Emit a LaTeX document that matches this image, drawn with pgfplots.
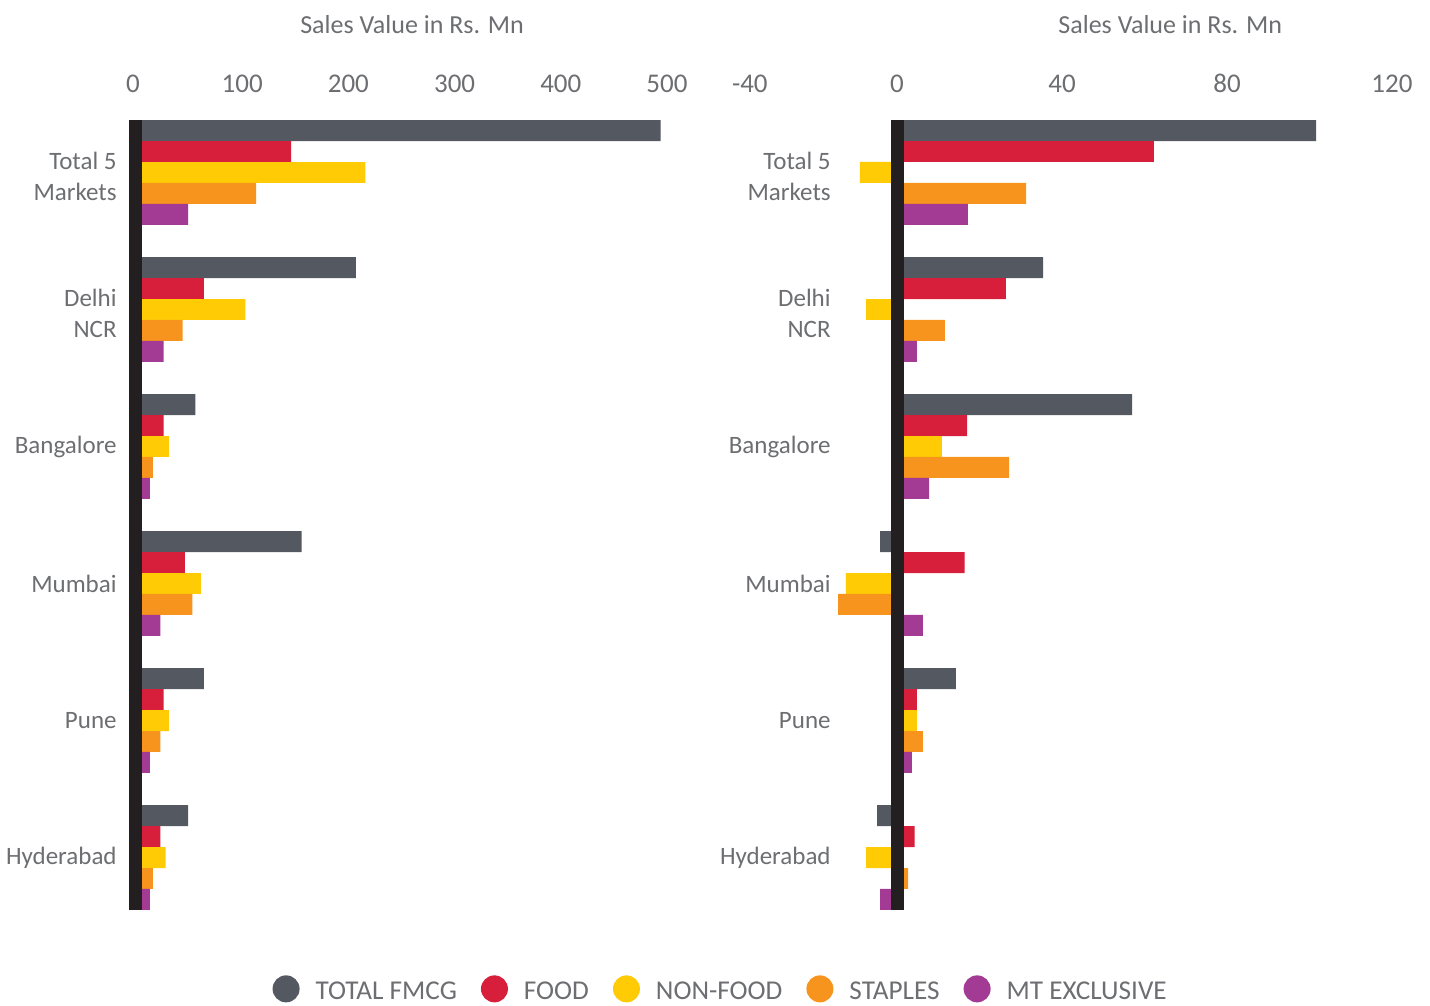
\documentclass[border=0pt]{standalone}
\usepackage{pgfplots}
\pgfplotsset{compat=1.18}
\usepackage{fontspec}
\setmainfont{Carlito}
\definecolor{cfmcg}{HTML}{545861}
\definecolor{cfood}{HTML}{D71F3C}
\definecolor{cnon}{HTML}{FFCB05}
\definecolor{cstap}{HTML}{F7941D}
\definecolor{cmt}{HTML}{A33A94}
\definecolor{caxis}{HTML}{231F20}
\definecolor{ctext}{HTML}{6D6E71}
\pgfplotstableread{
cat fmcg food non stap mt
0 494 146 216 113 49
1 207 64 103 44 26
2 56 26 31 16 13
3 156 46 61 53 23
4 64 26 31 23 13
5 49 23 28 16 13
}\lefttab
\pgfplotstableread{
cat fmcg food non stap mt
0 101.6 62.3 -9.0 31.3 17.2
1 35.4 26.4 -7.5 11.6 4.8
2 57.0 17.0 10.9 27.2 7.8
3 -4.1 16.4 -12.4 -14.3 6.3
4 14.3 4.8 4.8 6.3 3.6
5 -4.8 4.3 -7.5 2.7 -4.1
}\righttab
\begin{document}
\begin{tikzpicture}
\useasboundingbox (-68pt,-48pt) rectangle (647pt,455pt);
\pgfplotsset{
 mybase/.style={
  scale only axis, height=395pt,
  xbar=0pt, y dir=reverse, ymin=-0.383, ymax=5.383,
  ytick={0,1,2,3,4,5},
  bar width=0.153,
  axis line style={draw=none},
  major tick length=0pt,
  tick style={draw=none},
  xticklabel pos=upper,
  xticklabel style={anchor=base, inner sep=0pt, yshift=14pt, font=\fontsize{13.5}{16}\selectfont, text=ctext},
  yticklabel style={anchor=east, inner sep=0pt, align=right, font=\fontsize{12.5}{15.5}\selectfont, text=ctext},
  yticklabels={{\rule{0pt}{13pt}Total 5\\Markets},{\rule{0pt}{13pt}Delhi\\NCR},Bangalore,Mumbai,Pune,Hyderabad},
  clip=false,
 }
}
\begin{axis}[mybase, width=265.5pt, xmin=0, xmax=500,
  xtick={0,100,200,300,400,500}, xticklabels={\makebox[0pt]{0\hspace{3pt}},100,200,300,400,500},
  yticklabel style={xshift=-9.5pt},
  legend columns=5,
  legend style={at={(1.103,-0.1025)}, anchor=center, draw=none, fill=none,
    font=\fontsize{13.6}{16}\selectfont, text=ctext,
    /tikz/every odd column/.append style={column sep=6pt},
    /tikz/every even column/.append style={column sep=10pt}},
  legend image code/.code={\fill[#1] (6.75pt,0.17em) circle (6.75pt);},
]
\addplot[fill=cfmcg, draw=none] table[x=fmcg, y=cat]{\lefttab};
\addplot[fill=cfood, draw=none] table[x=food, y=cat]{\lefttab};
\addplot[fill=cnon, draw=none] table[x=non, y=cat]{\lefttab};
\addplot[fill=cstap, draw=none] table[x=stap, y=cat]{\lefttab};
\addplot[fill=cmt, draw=none] table[x=mt, y=cat]{\lefttab};
\legend{TOTAL FMCG, FOOD, NON-FOOD, STAPLES, MT EXCLUSIVE}
\draw[line width=6.5pt, caxis] (axis cs:0,-0.383) -- (axis cs:0,5.383);
\node[anchor=base, text=ctext, font=\fontsize{13}{16}\selectfont] at ([yshift=43.5pt]rel axis cs:0.52,1) {Sales Value in Rs. Mn};
\end{axis}
\begin{axis}[mybase, at={(298pt,0)}, anchor=south west, width=330pt, xmin=-40, xmax=120,
  xtick={-40,0,40,80,120}, xticklabels={\makebox[0pt][l]{-40},0,40,80,120},
  yticklabel style={xshift=49.5pt},
]
\addplot[fill=cfmcg, draw=none] table[x=fmcg, y=cat]{\righttab};
\addplot[fill=cfood, draw=none] table[x=food, y=cat]{\righttab};
\addplot[fill=cnon, draw=none] table[x=non, y=cat]{\righttab};
\addplot[fill=cstap, draw=none] table[x=stap, y=cat]{\righttab};
\addplot[fill=cmt, draw=none] table[x=mt, y=cat]{\righttab};
\draw[line width=6.5pt, caxis] (axis cs:0,-0.383) -- (axis cs:0,5.383);
\node[anchor=base, text=ctext, font=\fontsize{13}{16}\selectfont] at ([yshift=43.5pt]rel axis cs:0.664,1) {Sales Value in Rs. Mn};
\end{axis}
\end{tikzpicture}
\end{document}
